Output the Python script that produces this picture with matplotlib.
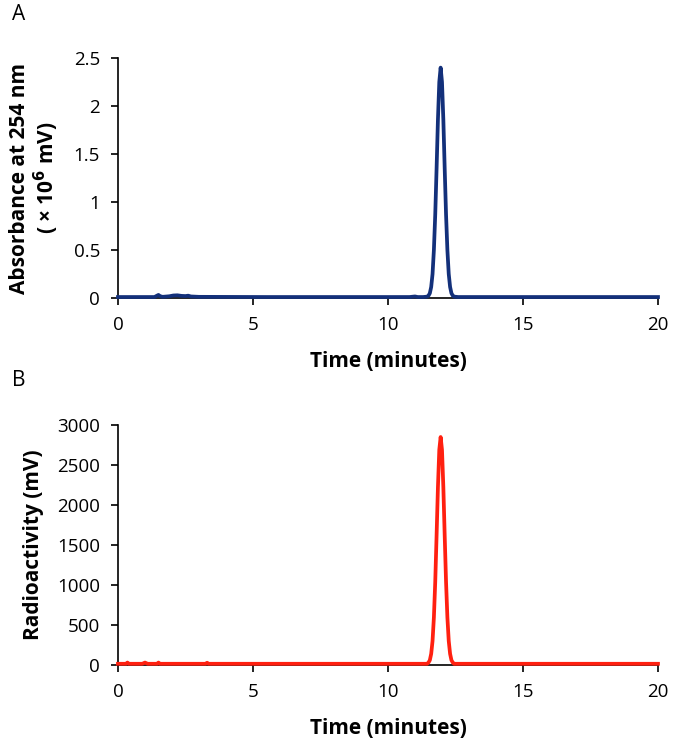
import matplotlib
matplotlib.use("Agg")
import matplotlib.pyplot as plt

plt.rcParams['font.family'] = ['Open Sans', 'DejaVu Sans']

# retention times (minutes)
time_uv = [0, 1.35, 1.45, 1.5, 1.55, 1.65, 1.9, 2.05, 2.2, 2.35, 2.5, 2.6, 2.7, 3.0,
           5.5, 10.8, 11.0, 11.1, 11.3, 11.45, 11.5, 11.55, 11.6, 11.65, 11.7, 11.75,
           11.8, 11.85, 11.9, 11.95, 12.0, 12.05, 12.1, 12.15, 12.2, 12.25, 12.3,
           12.35, 12.4, 12.45, 12.6, 20]
# UV absorbance at 254 nm (x10^6 mV)
abs_uv = [0.01, 0.01, 0.025, 0.032, 0.02, 0.012, 0.018, 0.026, 0.028, 0.022, 0.02, 0.024,
          0.016, 0.012, 0.01, 0.01, 0.016, 0.01, 0.01, 0.014, 0.024, 0.05, 0.115, 0.25,
          0.50, 0.87, 1.35, 1.86, 2.25, 2.40, 2.25, 1.86, 1.35, 0.87, 0.50, 0.25, 0.115,
          0.05, 0.024, 0.014, 0.01, 0.01]

time_rad = [0, 0.3, 0.35, 0.4, 0.9, 1.0, 1.1, 1.45, 1.5, 1.55, 3.25, 3.3, 3.35, 11.45,
            11.5, 11.55, 11.6, 11.65, 11.7, 11.75, 11.8, 11.85, 11.9, 11.95, 12.0,
            12.05, 12.1, 12.15, 12.2, 12.25, 12.3, 12.35, 12.4, 12.45, 20]
# radioactivity (mV)
rad = [15, 15, 30, 15, 15, 30, 15, 15, 30, 15, 15, 28, 15, 15,
       30, 60, 140, 300, 595, 1040, 1620, 2225, 2690, 2850, 2690, 2225,
       1620, 1040, 595, 300, 140, 60, 30, 15, 15]

xticks = [0, 5, 10, 15, 20]
yticks_uv = [0, 0.5, 1, 1.5, 2, 2.5]
yticks_rad = [0, 500, 1000, 1500, 2000, 2500, 3000]

fig = plt.figure(figsize=(6.75, 7.45), dpi=100)
axA = fig.add_axes([0.1748, 0.600, 0.800, 0.3221])
axB = fig.add_axes([0.1748, 0.1074, 0.800, 0.3221])

axA.plot(time_uv, abs_uv, color='#13307A', linewidth=2.7, zorder=3, clip_on=False,
         solid_joinstyle='round')
axB.plot(time_rad, rad, color='#FF2010', linewidth=2.7, zorder=3, clip_on=False,
         solid_joinstyle='round')

for ax, yt, ylabel in [(axA, yticks_uv, 'Absorbance at 254 nm\n( \u00d7 10$^{\\mathbf{6}}$ mV)'),
                       (axB, yticks_rad, 'Radioactivity (mV)')]:
    ax.set_xlim(0, 20)
    ax.set_ylim(yt[0], yt[-1])
    ax.set_xticks(xticks)
    ax.set_yticks(yt)
    ax.set_yticklabels([('%g' % v) for v in yt])
    for s in ['top', 'right']:
        ax.spines[s].set_visible(False)
    for s in ['left', 'bottom']:
        ax.spines[s].set_linewidth(1.2)
    ax.tick_params(direction='out', length=5, width=1.2, labelsize=13.5, pad=8)
    ax.set_xlabel('Time (minutes)', fontsize=15, fontweight='bold', labelpad=12)
    ax.set_ylabel(ylabel, fontsize=15, fontweight='bold', labelpad=9, linespacing=1.1)

fig.text(0.018, 0.980, 'A', fontsize=15, va='center', ha='left')
fig.text(0.018, 0.489, 'B', fontsize=15, va='center', ha='left')

fig.savefig('out.png', dpi=100)
